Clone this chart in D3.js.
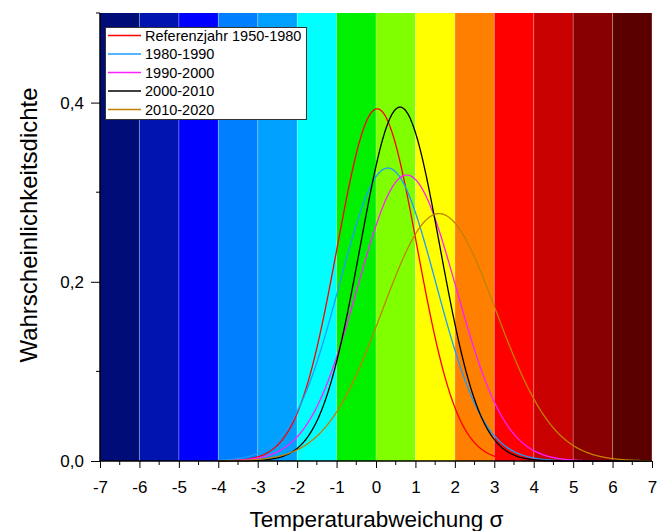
<!DOCTYPE html>
<html lang="de">
<head>
    <meta charset="utf-8">
    <title>Temperaturabweichung</title>
    <script src="https://d3js.org/d3.v7.min.js" charset="utf-8"></script>
    <style type="text/css">
        body { margin: 0; background: white; }
        text { font-family: "Liberation Sans", Arial, sans-serif; fill: #000; }
        .tick text { font-size: 17px; }
        .legend text { font-size: 14.5px; }
    </style>
</head>
<body>
    <div id="main"></div>
    <script type="text/javascript">
        var width = 657;
        var height = 531;

        // colour bands, one per sigma interval
        var bandStarts = [-7, -6, -5, -4, -3, -2, -1, 0, 1, 2, 3, 4, 5, 6];
        var bandColors = ["#000c78", "#0014b0", "#0000ff", "#0080ff", "#00a0ff", "#00ffff", "#00f000",
                          "#80ff00", "#ffff00", "#ff8000", "#ff0000", "#c80000", "#880000", "#5a0000"];

        var seriesNames = ["Referenzjahr 1950-1980", "1980-1990", "1990-2000", "2000-2010", "2010-2020"];
        var seriesColors = ["#ff0000", "#1e9bff", "#ff1eff", "#000000", "#c08000"];
        var seriesMeans = [0.03, 0.30, 0.78, 0.61, 1.60];
        var seriesSds = [1.015, 1.22, 1.25, 1.01, 1.445];

        var xTicks = d3.range(-7, 8);
        var yTicks = [0, 0.2, 0.4];

        var margin = {left: 100, right: 5, top: 13, bottom: 70};

        var svg = d3.select("div#main")
                    .append("svg")
                    .attr("width", width)
                    .attr("height", height)

        var x = d3.scaleLinear().domain([-7, 7]).range([margin.left, width - margin.right])
        var y = d3.scaleLinear().domain([0, 0.5]).range([height - margin.bottom, margin.top])

        svg.append("g").selectAll("rect")
            .data(bandStarts)
            .enter()
            .append("rect")
            .attr("x", function(d){ return x(d) })
            .attr("y", y(0.5))
            .attr("width", function(d){ return x(d + 1) - x(d) })
            .attr("height", y(0) - y(0.5))
            .attr("fill", function(d, i){ return bandColors[i] })

        // faint separators between bands
        svg.append("g").selectAll("line")
            .data(bandStarts.slice(1).concat([7]))
            .enter()
            .append("line")
            .attr("x1", function(d){ return x(d) }).attr("x2", function(d){ return x(d) })
            .attr("y1", y(0.5)).attr("y2", y(0))
            .attr("stroke", "white").attr("stroke-opacity", 0.3).attr("stroke-width", 1)

        function pdf(t, m, s){
            return Math.exp(-0.5 * Math.pow((t - m) / s, 2)) / (s * Math.sqrt(2 * Math.PI))
        }

        var xs = d3.range(-4, 7.001, 0.02);
        var line = d3.line().x(function(d){ return x(d[0]) }).y(function(d){ return y(d[1]) })

        svg.append("g").selectAll("path")
            .data(seriesNames)
            .enter()
            .append("path")
            .attr("fill", "none")
            .attr("stroke", function(d, i){ return seriesColors[i] })
            .attr("stroke-width", 1.3)
            .attr("d", function(d, i){
                return line(xs.map(function(t){ return [t, pdf(t, seriesMeans[i], seriesSds[i])] }))
            })

        // axes
        var xAxis = d3.axisBottom(x).tickValues(xTicks).tickSize(7).tickPadding(13).tickFormat(d3.format("d"))
        var gx = svg.append("g").attr("transform", "translate(0," + y(0) + ")").call(xAxis)
        gx.selectAll(".tick text").text(function(d){ return d < 0 ? "-" + Math.abs(d) : d })
        gx.append("g").selectAll("line")
            .data(d3.range(-6.5, 7, 1))
            .enter().append("line")
            .attr("x1", function(d){ return x(d) }).attr("x2", function(d){ return x(d) })
            .attr("y1", 0).attr("y2", 4).attr("stroke", "black")

        var yAxis = d3.axisLeft(y).tickValues(yTicks).tickSize(9).tickPadding(7)
            .tickFormat(function(d){ return d3.format(".1f")(d).replace(".", ",") })
        var gy = svg.append("g").attr("transform", "translate(" + x(-7) + ",0)").call(yAxis)
        gy.append("g").selectAll("line")
            .data([0.1, 0.3, 0.5])
            .enter().append("line")
            .attr("x1", -4).attr("x2", 0)
            .attr("y1", function(d){ return y(d) }).attr("y2", function(d){ return y(d) })
            .attr("stroke", "black")
        svg.selectAll(".domain").attr("stroke-width", 1.5)
        gx.select(".domain").attr("d", "M" + x(-7) + ",0H" + x(7))
        gy.select(".domain").attr("d", "M0," + y(0.5) + "V" + y(0))

        svg.append("text")
            .attr("x", 376.5)
            .attr("y", 527)
            .attr("text-anchor", "middle")
            .style("font-size", "22.5px")
            .text("Temperaturabweichung σ")

        svg.append("text")
            .attr("transform", "translate(37,225) rotate(-90)")
            .attr("text-anchor", "middle")
            .style("font-size", "24px")
            .text("Wahrscheinlichkeitsdichte")

        // legend
        var legend = svg.append("g").attr("class", "legend")
        legend.append("rect")
            .attr("x", 105.5).attr("y", 27.5)
            .attr("width", 201).attr("height", 92)
            .attr("fill", "white").attr("stroke", "#333").attr("stroke-width", 1)
        var items = legend.selectAll("g.item")
            .data(seriesNames)
            .enter().append("g")
            .attr("class", "item")
            .attr("transform", function(d, i){ return "translate(0," + (35.5 + i * 18.5) + ")" })
        items.append("line")
            .attr("x1", 108).attr("x2", 141)
            .attr("stroke", function(d, i){ return seriesColors[i] })
            .attr("stroke-width", 1.3)
        items.append("text")
            .attr("x", 145).attr("y", 5)
            .text(function(d){ return d })
    </script>
</body>
</html>
